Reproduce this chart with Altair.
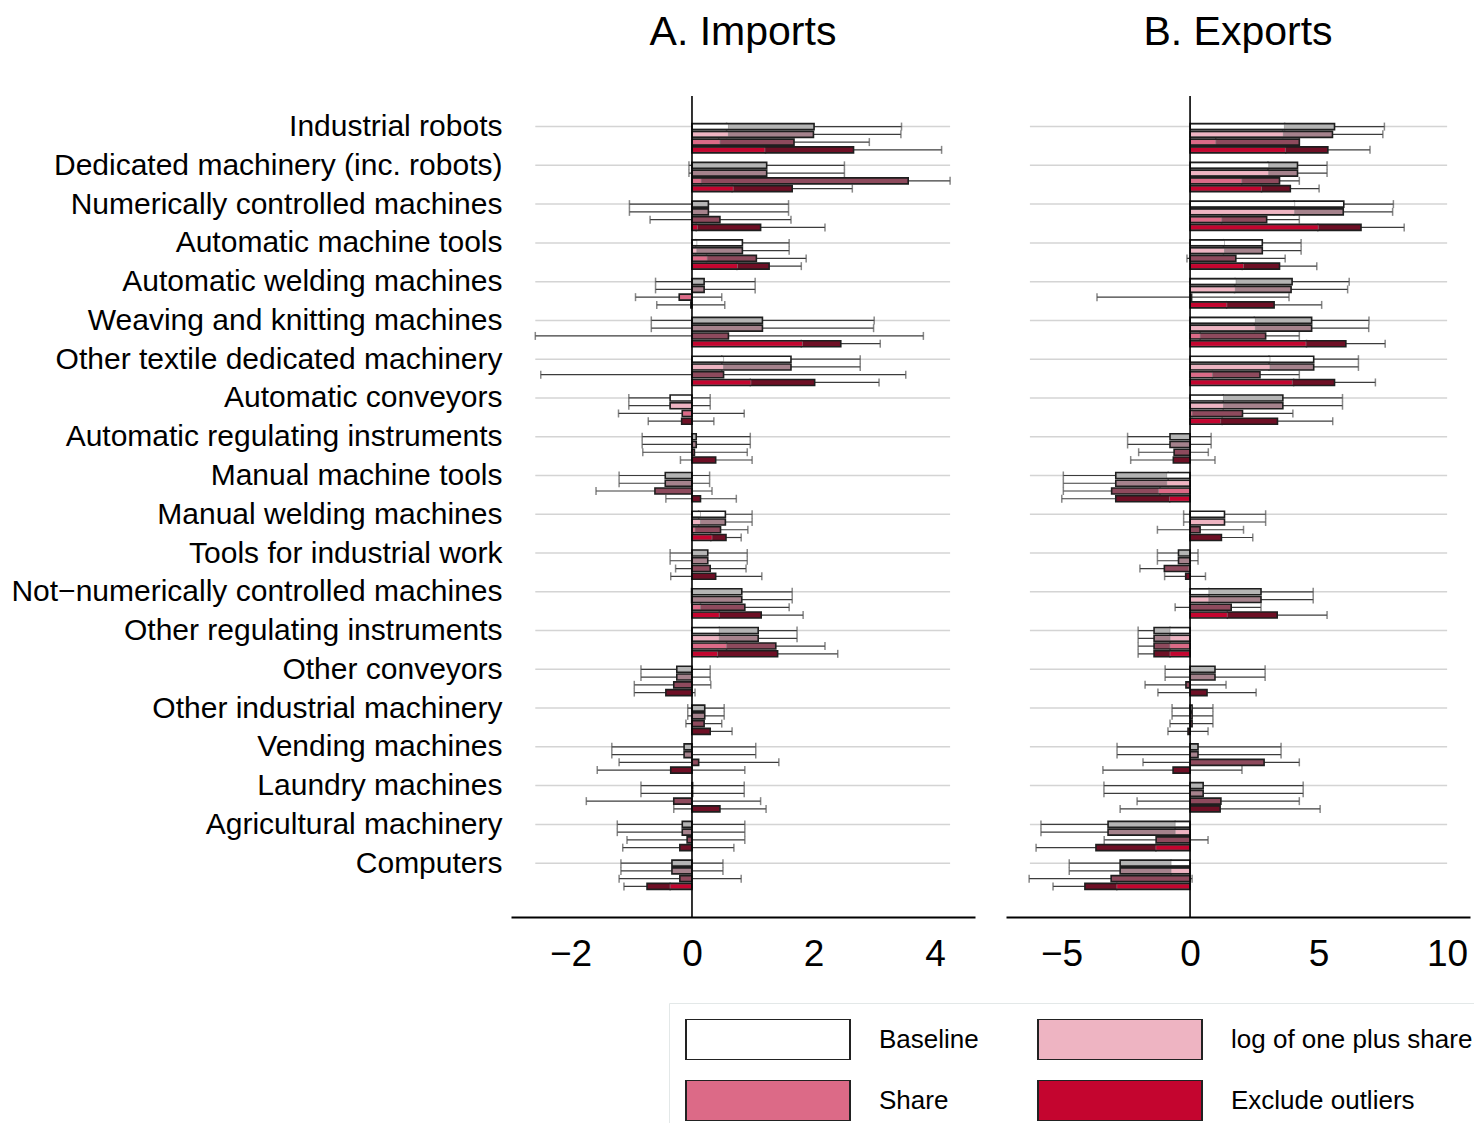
import json
import altair as alt
import pandas as pd

categories = [
    "Industrial robots", "Dedicated machinery (inc. robots)", "Numerically controlled machines",
    "Automatic machine tools", "Automatic welding machines", "Weaving and knitting machines",
    "Other textile dedicated machinery", "Automatic conveyors", "Automatic regulating instruments",
    "Manual machine tools", "Manual welding machines", "Tools for industrial work",
    "Not\u2212numerically controlled machines", "Other regulating instruments", "Other conveyors",
    "Other industrial machinery", "Vending machines", "Laundry machines",
    "Agricultural machinery", "Computers",
]
specs = ["Baseline", "log of one plus share", "Share", "Exclude outliers"]
inner_colors = ["#ffffff", "#eeb4c2", "#dc6a87", "#c4052f"]
dark_colors = ["#b4b4b4", "#a5828c", "#8e4a5d", "#6e0f25"]

# ---------------- Panel A: Imports ----------------
imp_base_est = [2.01, 1.23, 0.27, 0.83, 0.20, 1.16, 1.63, -0.36, 0.07, -0.44, 0.55, 0.26, 0.82, 1.09, -0.25, 0.21, -0.13, 0.01, -0.16, -0.33]
imp_base_in = [0.60, 0.00, 0.00, 0.08, 0.00, 0.00, 0.52, 0.00, 0.00, 0.00, 0.14, 0.00, 0.00, 0.45, 0.00, 0.00, 0.00, 0.00, 0.00, 0.00]
imp_base_lo = [0.57, -0.05, -1.03, 0.06, -0.60, -0.67, 0.49, -1.04, -0.82, -1.20, 0.11, -0.36, -0.01, 0.45, -0.84, -0.07, -1.32, -0.84, -1.23, -1.17]
imp_base_hi = [3.45, 2.51, 1.59, 1.60, 1.04, 3.00, 2.77, 0.30, 0.96, 0.29, 0.99, 0.91, 1.65, 1.73, 0.30, 0.53, 1.05, 0.86, 0.87, 0.51]
imp_base_white = [0, 0, 0, 1, 0, 0, 1, 1, 0, 0, 1, 0, 0, 0, 0, 0, 0, 0, 0, 0]

imp_log_est = [2.00, 1.23, 0.27, 0.83, 0.20, 1.16, 1.63, -0.36, 0.07, -0.44, 0.55, 0.26, 0.82, 1.09, -0.25, 0.21, -0.13, 0.01, -0.16, -0.33]
imp_log_in = [0.60, 0.00, 0.00, 0.08, 0.00, 0.00, 0.52, -0.36, 0.00, 0.00, 0.14, 0.00, 0.00, 0.45, 0.00, 0.00, 0.00, 0.00, 0.00, 0.00]
imp_log_lo = [0.57, -0.05, -1.03, 0.06, -0.60, -0.67, 0.49, -1.04, -0.82, -1.20, 0.11, -0.36, -0.01, 0.45, -0.84, -0.07, -1.32, -0.84, -1.23, -1.17]
imp_log_hi = [3.44, 2.51, 1.59, 1.60, 1.04, 2.99, 2.77, 0.30, 0.96, 0.29, 0.99, 0.91, 1.65, 1.73, 0.30, 0.53, 1.05, 0.86, 0.87, 0.51]

imp_share_est = [1.68, 3.56, 0.46, 1.06, -0.21, 0.60, 0.52, -0.16, 0.04, -0.61, 0.47, 0.30, 0.87, 1.38, -0.30, 0.20, 0.11, -0.30, -0.08, -0.20]
imp_share_in = [0.46, 0.15, 0.00, 0.25, -0.21, 0.00, 0.00, -0.16, 0.00, 0.00, 0.05, 0.00, 0.14, 0.57, 0.00, 0.00, 0.00, 0.00, 0.00, 0.00]
imp_share_lo = [0.44, 0.15, -0.69, 0.24, -0.93, -2.58, -2.49, -1.21, -0.81, -1.58, 0.02, -0.27, 0.14, 0.57, -0.95, -0.10, -1.20, -1.74, -1.07, -1.20]
imp_share_hi = [2.92, 4.25, 1.63, 1.88, 0.49, 3.81, 3.52, 0.86, 0.91, 0.33, 0.92, 0.89, 1.60, 2.19, 0.31, 0.49, 1.43, 1.13, 0.87, 0.81]

imp_out_est = [2.66, 1.65, 1.13, 1.27, -0.02, 2.45, 2.02, -0.17, 0.39, 0.14, 0.56, 0.39, 1.14, 1.41, -0.43, 0.30, -0.35, 0.46, -0.20, -0.74]
imp_out_in = [1.20, 0.68, 0.09, 0.75, 0.00, 1.82, 0.97, 0.00, 0.00, 0.00, 0.33, 0.00, 0.45, 0.42, 0.00, 0.00, 0.00, 0.00, 0.00, -0.36]
imp_out_lo = [1.21, 0.66, 0.07, 0.74, -0.58, 1.80, 0.96, -0.72, -0.19, -0.43, 0.31, -0.35, 0.45, 0.42, -0.95, 0.00, -1.56, -0.30, -1.14, -1.12]
imp_out_hi = [4.11, 2.64, 2.19, 1.80, 0.54, 3.10, 3.08, 0.36, 0.99, 0.73, 0.81, 1.15, 1.83, 2.40, 0.05, 0.66, 0.87, 1.22, 0.69, -0.36]

# ---------------- Panel B: Exports ----------------
exp_base_est = [5.62, 4.18, 5.98, 2.81, 3.97, 4.73, 4.81, 3.61, -0.78, -2.89, 1.34, -0.45, 2.76, -1.40, 0.97, 0.08, 0.31, 0.51, -3.19, -2.72]
exp_base_in = [3.67, 3.06, 4.07, 1.34, 1.79, 2.54, 3.11, 1.30, 0.00, -0.91, 0.00, 0.00, 0.73, -0.78, 0.00, 0.00, 0.00, 0.00, -0.58, -0.74]
exp_base_lo = [3.68, 3.03, 4.05, 1.30, 1.75, 2.50, 3.07, 1.29, -2.43, -4.93, -0.25, -1.27, 0.73, -2.02, -0.97, -0.70, -2.84, -3.35, -5.80, -4.70]
exp_base_hi = [7.56, 5.33, 7.91, 4.32, 6.19, 6.96, 6.55, 5.93, 0.82, -0.85, 2.94, 0.31, 4.79, -0.78, 2.92, 0.89, 3.54, 4.40, -0.58, -0.74]
exp_base_white = [0, 0, 1, 1, 0, 0, 1, 0, 0, 0, 1, 0, 0, 0, 0, 0, 0, 0, 0, 0]

exp_log_est = [5.54, 4.18, 5.96, 2.81, 3.93, 4.73, 4.81, 3.61, -0.78, -2.89, 1.34, -0.45, 2.76, -1.40, 0.97, 0.08, 0.31, 0.51, -3.19, -2.72]
exp_log_in = [3.63, 3.06, 4.07, 1.34, 1.76, 2.54, 3.11, 1.30, 0.00, -0.91, 1.34, 0.00, 0.73, -0.78, 0.00, 0.00, 0.00, 0.00, -0.58, -0.74]
exp_log_lo = [3.60, 3.03, 4.04, 1.30, 1.73, 2.51, 3.07, 1.29, -2.43, -4.93, -0.25, -1.27, 0.73, -2.02, -0.97, -0.70, -2.84, -3.35, -5.80, -4.70]
exp_log_hi = [7.50, 5.33, 7.88, 4.32, 6.13, 6.95, 6.55, 5.93, 0.82, -0.85, 2.94, 0.31, 4.79, -0.78, 2.92, 0.89, 3.54, 4.40, -0.58, -0.74]

exp_share_est = [4.25, 3.48, 2.98, 1.78, 0.06, 2.94, 2.72, 2.04, -0.62, -3.05, 0.39, -1.00, 1.60, -1.40, -0.16, 0.08, 2.88, 1.20, -1.32, -3.07]
exp_share_in = [1.00, 2.01, 1.23, 0.00, 0.00, 0.39, 0.87, 0.08, 0.00, -1.23, 0.00, -0.05, 0.00, -0.78, 0.00, 0.00, 0.00, 0.00, 0.00, 0.00]
exp_share_lo = [1.00, 2.01, 1.23, -0.12, -3.62, 0.39, 0.87, 0.08, -2.00, -4.93, -1.27, -1.95, -0.58, -2.02, -1.75, -0.78, -1.83, -2.06, -3.34, -6.26]
exp_share_hi = [4.25, 4.25, 4.25, 3.70, 3.85, 4.25, 4.25, 4.00, 0.71, -1.17, 2.08, -0.05, 2.76, -0.78, 1.40, 0.89, 4.25, 4.25, 0.70, 0.08]

exp_out_est = [5.36, 3.90, 6.65, 3.48, 3.27, 6.06, 5.62, 3.40, -0.65, -2.89, 1.22, -0.17, 3.39, -1.40, 0.66, -0.08, -0.66, 1.17, -3.66, -4.09]
exp_out_in = [3.71, 2.78, 4.99, 2.08, 1.43, 4.51, 3.98, 1.19, 0.00, -0.80, 0.00, 0.00, 1.45, -0.78, 0.00, 0.00, 0.00, 0.00, -1.33, -2.85]
exp_out_lo = [3.72, 2.78, 4.97, 2.03, 1.42, 4.53, 4.03, 1.25, -2.31, -4.99, 0.00, -0.99, 1.45, -2.02, -1.25, -0.86, -3.39, -2.72, -5.99, -5.33]
exp_out_hi = [7.00, 5.02, 8.33, 4.93, 5.12, 7.59, 7.21, 5.55, 0.97, -0.79, 2.44, 0.60, 5.33, -0.78, 2.57, 0.70, 2.02, 5.06, -1.33, -2.85]

# axis settings
imp_domain = [-2.98, 4.66]
imp_ticks = [-2, 0, 2, 4]
imp_grid = [-2.58, 4.25]
exp_domain = [-7.16, 10.89]
exp_ticks = [-5, 0, 5, 10]
exp_grid = [-6.23, 10.0]

FONT = "Liberation Sans"

panels = {
    "imp": [
        (imp_base_est, imp_base_in, imp_base_lo, imp_base_hi, imp_base_white),
        (imp_log_est, imp_log_in, imp_log_lo, imp_log_hi, None),
        (imp_share_est, imp_share_in, imp_share_lo, imp_share_hi, None),
        (imp_out_est, imp_out_in, imp_out_lo, imp_out_hi, None),
    ],
    "exp": [
        (exp_base_est, exp_base_in, exp_base_lo, exp_base_hi, exp_base_white),
        (exp_log_est, exp_log_in, exp_log_lo, exp_log_hi, None),
        (exp_share_est, exp_share_in, exp_share_lo, exp_share_hi, None),
        (exp_out_est, exp_out_in, exp_out_lo, exp_out_hi, None),
    ],
}

rows = []
for pname, plist in panels.items():
    for j, (est, inn, lo, hi, white) in enumerate(plist):
        for i, cat in enumerate(categories):
            dark = dark_colors[j]
            if white is not None and white[i]:
                dark = "#ffffff"
            rows.append(dict(panel=pname, cat=cat, spec=specs[j], pos=5 * i + j,
                             zero=0.0, est=est[i], inner=inn[i], lo=lo[i], hi=hi[i], dark=dark))
df = pd.DataFrame(rows)

label_expr = "[" + ",".join(json.dumps(c, ensure_ascii=False) for c in categories) + "][round(datum.value/5)]"

legend = alt.Legend(
    title=None, orient="none", legendX=158, legendY=907, columns=2, direction="horizontal",
    symbolType="M-1,-0.25H1V0.25H-1Z", symbolSize=26896, clipHeight=41,
    symbolStrokeColor="#222222", symbolStrokeWidth=2, symbolOpacity=1,
    labelFontSize=26, labelFont=FONT, labelColor="black", labelOffset=28, labelLimit=600,
    rowPadding=20, columnPadding=58, padding=16, strokeColor="#e3e8e8",
)


def make_panel(pname, title, xdom, xticks, gl, show_labels):
    d = df[df.panel == pname]
    yscale = alt.Scale(domain=[-3.3, 101.3], reverse=True, nice=False, zero=False)
    xscale = alt.Scale(domain=xdom, nice=False, zero=False)
    xaxis = alt.Axis(values=xticks, title=None, grid=False, labelFontSize=37, labelFont=FONT,
                     labelColor="black", domainColor="black", domainWidth=2, ticks=False,
                     labelPadding=19, labelFlush=False, format="d")
    if show_labels:
        yaxis = alt.Axis(values=list(range(0, 100, 5)), labelExpr=label_expr, domain=False, ticks=False,
                         grid=False, title=None, labelFontSize=30, labelFont=FONT, labelColor="black",
                         labelPadding=9, labelLimit=800)
    else:
        yaxis = None

    gdf = pd.DataFrame({"pos": [5 * i for i in range(len(categories))],
                        "g1": [gl[0]] * len(categories), "g2": [gl[1]] * len(categories)})
    grid = alt.Chart(gdf).mark_rule(color="#d4d4d4", strokeWidth=1.5).encode(
        y=alt.Y("pos:Q", scale=yscale, axis=yaxis),
        x=alt.X("g1:Q", scale=xscale, axis=xaxis),
        x2="g2:Q",
    )
    base = alt.Chart(d)
    err = base.mark_rule(color="#3c3c3c", strokeWidth=1.2).encode(
        x=alt.X("lo:Q"), x2="hi:Q", y=alt.Y("pos:Q"))
    caps = base.transform_fold(["lo", "hi"], as_=["end", "xv"]).mark_tick(
        orient="vertical", size=8, thickness=1.5, color="#555555").encode(
        x=alt.X("xv:Q"), y=alt.Y("pos:Q"))
    dark = base.mark_bar(orient="horizontal", size=6).encode(
        x=alt.X("zero:Q"), x2="est:Q", y=alt.Y("pos:Q"),
        fill=alt.Fill("dark:N", scale=None))
    inner = base.mark_bar(orient="horizontal", size=5, stroke="#888888", strokeWidth=0.6).encode(
        x=alt.X("zero:Q"), x2="inner:Q", y=alt.Y("pos:Q"),
        color=alt.Color("spec:N", scale=alt.Scale(domain=specs, range=inner_colors),
                        legend=legend if show_labels else None))
    outline = base.mark_bar(orient="horizontal", size=6, fillOpacity=0, stroke="#1e1e1e",
                            strokeWidth=1.6).encode(
        x=alt.X("zero:Q"), x2="est:Q", y=alt.Y("pos:Q"))
    zero = alt.Chart(pd.DataFrame({"z": [0.0]})).mark_rule(color="black", strokeWidth=1.6).encode(
        x=alt.X("z:Q"))
    return alt.layer(grid, err, caps, dark, inner, outline, zero).properties(
        width=464, height=821,
        title=alt.TitleParams(title, fontSize=41, font=FONT, fontWeight="normal", color="black",
                              frame="group", anchor="middle", offset=41),
    )


imp = make_panel("imp", "A. Imports", imp_domain, imp_ticks, imp_grid, True)
exp = make_panel("exp", "B. Exports", exp_domain, exp_ticks, exp_grid, False)

chart = (
    alt.hconcat(imp, exp, spacing=31, bounds="flush")
    .resolve_scale(color="independent")
    .properties(padding={"left": 2, "top": 4, "right": -16, "bottom": -15})
    .configure(font=FONT)
    .configure_view(stroke="transparent", strokeWidth=0)
)
chart.save("out.html", embed_options={"renderer": "svg", "actions": False})
